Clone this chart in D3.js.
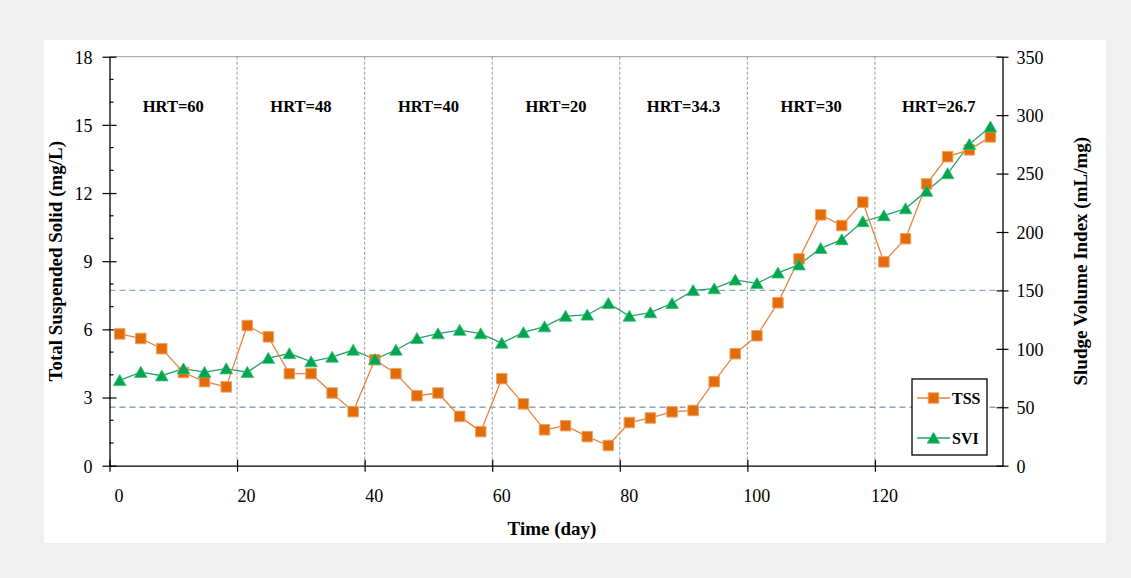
<!DOCTYPE html>
<html>
<head>
<meta charset="utf-8">
<script src="https://cdn.jsdelivr.net/npm/d3@7"></script>
<style>
  html, body { margin: 0; padding: 0; background: #f0f0f0; }
  svg { display: block; }
  text { font-family: "Liberation Serif", "Times New Roman", serif; fill: #000; }
</style>
</head>
<body>
<svg id="chart" width="1131" height="578"></svg>
<script>
// Sampling days
const days = [1.6, 4.9, 8.2, 11.6, 14.9, 18.3, 21.6, 24.9, 28.2, 31.6, 34.9, 38.2, 41.6, 44.9,
  48.2, 51.5, 54.9, 58.2, 61.5, 64.9, 68.2, 71.5, 74.9, 78.2, 81.5, 84.8, 88.2, 91.5, 94.8,
  98.1, 101.5, 104.8, 108.1, 111.5, 114.8, 118.1, 121.4, 124.8, 128.1, 131.4, 134.8, 138.1];

// Effluent total suspended solids (mg/L)
const tss = [5.8, 5.6, 5.15, 4.1, 3.7, 3.47, 6.17, 5.67, 4.05, 4.05, 3.2, 2.38, 4.66, 4.05,
  3.08, 3.2, 2.17, 1.5, 3.83, 2.72, 1.58, 1.76, 1.28, 0.89, 1.9, 2.1, 2.37, 2.43, 3.7,
  4.93, 5.72, 7.17, 9.1, 11.04, 10.57, 11.6, 8.97, 9.99, 12.4, 13.6, 13.9, 14.47];

// Sludge volume index (mL/mg)
const svi = [73, 80, 77, 83, 80, 83, 80, 92, 96, 89, 93, 99, 91, 99, 109, 113, 116, 113,
  105, 114, 119, 128, 129, 139, 128, 131, 139, 150, 151.5, 159, 156, 165, 172, 186, 193.5,
  209, 214, 220, 235, 250, 275, 290];

// HRT phases: boundaries (day) and labels
const phaseBounds = [20, 40, 60, 80, 100, 120];
const phaseStarts = [0, 20, 40, 60, 80, 100, 120];
const phaseEnds = [20, 40, 60, 80, 100, 120, 140];
const phaseLabels = ["HRT=60", "HRT=48", "HRT=40", "HRT=20", "HRT=34.3", "HRT=30", "HRT=26.7"];

// Reference SVI levels
const sviRefs = [50, 150];

// Tick values
const xTicks = [0, 20, 40, 60, 80, 100, 120];
const leftTicks = [0, 3, 6, 9, 12, 15, 18];
const leftMinor = [1, 2, 4, 5, 7, 8, 10, 11, 13, 14, 16, 17];
const rightTicks = [0, 50, 100, 150, 200, 250, 300, 350];

const legendItems = ["TSS", "SVI"];

const orange = "#e36c0a", orangeLine = "#e9843c";
const green = "#00a550", greenLine = "#21a466";

const svg = d3.select("#chart");

// white chart panel
svg.append("rect").attr("x", 44).attr("y", 40).attr("width", 1062).attr("height", 503)
  .attr("fill", "#fff");

const L = 109.5, R = 1002.5, T = 56.7, B = 465.7;
const x = d3.scaleLinear().domain([0, 140]).range([L, R]);
const yL = d3.scaleLinear().domain([0, 18]).range([B, T]);
const yR = d3.scaleLinear().domain([0, 350]).range([B, T]);

// plot area top border
svg.append("line").attr("x1", L).attr("x2", R).attr("y1", T).attr("y2", T)
  .attr("stroke", "#9a9a9a").attr("stroke-width", 1);

// phase separators
svg.append("g").selectAll("line").data(phaseBounds).join("line")
  .attr("x1", d => x(d)).attr("x2", d => x(d)).attr("y1", T).attr("y2", B)
  .attr("stroke", "#7f7f7f").attr("stroke-width", 0.8).attr("stroke-dasharray", "3,2");

// reference SVI levels
svg.append("g").selectAll("line").data(sviRefs).join("line")
  .attr("x1", L).attr("x2", R).attr("y1", d => yR(d)).attr("y2", d => yR(d))
  .attr("stroke", "#8ea4c2").attr("stroke-width", 1.4).attr("stroke-dasharray", "6,4");

// phase labels
svg.append("g").selectAll("text").data(phaseLabels).join("text")
  .attr("x", (d, i) => x((phaseStarts[i] + phaseEnds[i]) / 2))
  .attr("y", 112)
  .attr("text-anchor", "middle")
  .attr("font-weight", "bold").attr("font-size", 16.5)
  .text(d => d);

// axes
const xAxis = d3.axisBottom(x).tickValues(xTicks).tickSize(0).tickFormat(d3.format("d"));
const gx = svg.append("g").attr("transform", `translate(0,${B})`).call(xAxis);
gx.select(".domain").attr("stroke", "#000").attr("stroke-width", 1.3);
gx.selectAll(".tick text").attr("font-size", 18).attr("dy", "0").attr("y", 36)
  .attr("dx", 9).attr("font-family", "Liberation Serif, serif");
gx.selectAll(".tick").append("line").attr("y1", -6).attr("y2", 6)
  .attr("stroke", "#000").attr("stroke-width", 1.2);

const yAxisL = d3.axisLeft(yL).tickValues(leftTicks).tickSize(0);
const gyl = svg.append("g").attr("transform", `translate(${L},0)`).call(yAxisL);
gyl.select(".domain").attr("stroke", "#000").attr("stroke-width", 1.3);
gyl.selectAll(".tick text").attr("font-size", 18).attr("x", -17).attr("dy", "0.35em")
  .attr("font-family", "Liberation Serif, serif");
gyl.selectAll(".tick").append("line").attr("x1", -7).attr("x2", 7)
  .attr("stroke", "#000").attr("stroke-width", 1.2);
svg.append("g").selectAll("line").data(leftMinor).join("line")
  .attr("x1", L).attr("x2", L + 4).attr("y1", d => yL(d)).attr("y2", d => yL(d))
  .attr("stroke", "#000").attr("stroke-width", 1.2);

const yAxisR = d3.axisRight(yR).tickValues(rightTicks).tickSize(0);
const gyr = svg.append("g").attr("transform", `translate(${R},0)`).call(yAxisR);
gyr.select(".domain").attr("stroke", "#000").attr("stroke-width", 1.3);
gyr.selectAll(".tick text").attr("font-size", 18).attr("x", 14).attr("dy", "0.35em")
  .attr("font-family", "Liberation Serif, serif");
gyr.selectAll(".tick").append("line").attr("x1", -6).attr("x2", 6)
  .attr("stroke", "#000").attr("stroke-width", 1.2);

// axis titles
svg.append("text").attr("x", 552).attr("y", 535).attr("text-anchor", "middle")
  .attr("font-weight", "bold").attr("font-size", 19).text("Time (day)");
svg.append("text").attr("transform", `translate(62,${(T + B) / 2}) rotate(-90)`)
  .attr("text-anchor", "middle").attr("font-weight", "bold").attr("font-size", 19)
  .text("Total Suspended Solid (mg/L)");
svg.append("text").attr("transform", `translate(1087,${(T + B) / 2}) rotate(-90)`)
  .attr("text-anchor", "middle").attr("font-weight", "bold").attr("font-size", 19)
  .text("Sludge Volume Index (mL/mg)");

// series
const tssPts = days.map((d, i) => [d, tss[i]]);
const sviPts = days.map((d, i) => [d, svi[i]]);

svg.append("path").datum(sviPts)
  .attr("d", d3.line().x(d => x(d[0])).y(d => yR(d[1])))
  .attr("fill", "none").attr("stroke", greenLine).attr("stroke-width", 1.3);
svg.append("path").datum(tssPts)
  .attr("d", d3.line().x(d => x(d[0])).y(d => yL(d[1])))
  .attr("fill", "none").attr("stroke", orangeLine).attr("stroke-width", 1.3);

const tri = d3.symbol().type(d3.symbolTriangle).size(70);
const sq = d3.symbol().type(d3.symbolSquare).size(110);

svg.append("g").selectAll("path").data(tssPts).join("path")
  .attr("transform", d => `translate(${x(d[0])},${yL(d[1])})`)
  .attr("d", sq).attr("fill", orange).attr("stroke", "#f0a060").attr("stroke-width", 1);
svg.append("g").selectAll("path").data(sviPts).join("path")
  .attr("transform", d => `translate(${x(d[0])},${yR(d[1]) + 1.5})`)
  .attr("d", tri).attr("fill", green).attr("stroke", "#3cbf7a").attr("stroke-width", 0.8);

// legend
const lg = svg.append("g");
lg.append("rect").attr("x", 912).attr("y", 379).attr("width", 75).attr("height", 76)
  .attr("fill", "#fff").attr("stroke", "#000").attr("stroke-width", 1.3);
legendItems.forEach((name, i) => {
  const ly = 398 + i * 40;
  const c = i === 0 ? orangeLine : greenLine;
  lg.append("line").attr("x1", 917).attr("x2", 950).attr("y1", ly).attr("y2", ly)
    .attr("stroke", c).attr("stroke-width", 1.3);
  lg.append("path").attr("transform", `translate(933.5,${ly + (i === 0 ? 0 : 1.5)})`)
    .attr("d", i === 0 ? sq : tri)
    .attr("fill", i === 0 ? orange : green)
    .attr("stroke", i === 0 ? "#f0a060" : "#3cbf7a").attr("stroke-width", 0.8);
  lg.append("text").attr("x", 952).attr("y", ly).attr("dy", "0.35em")
    .attr("font-weight", "bold").attr("font-size", 16).text(name);
});
</script>
</body>
</html>
